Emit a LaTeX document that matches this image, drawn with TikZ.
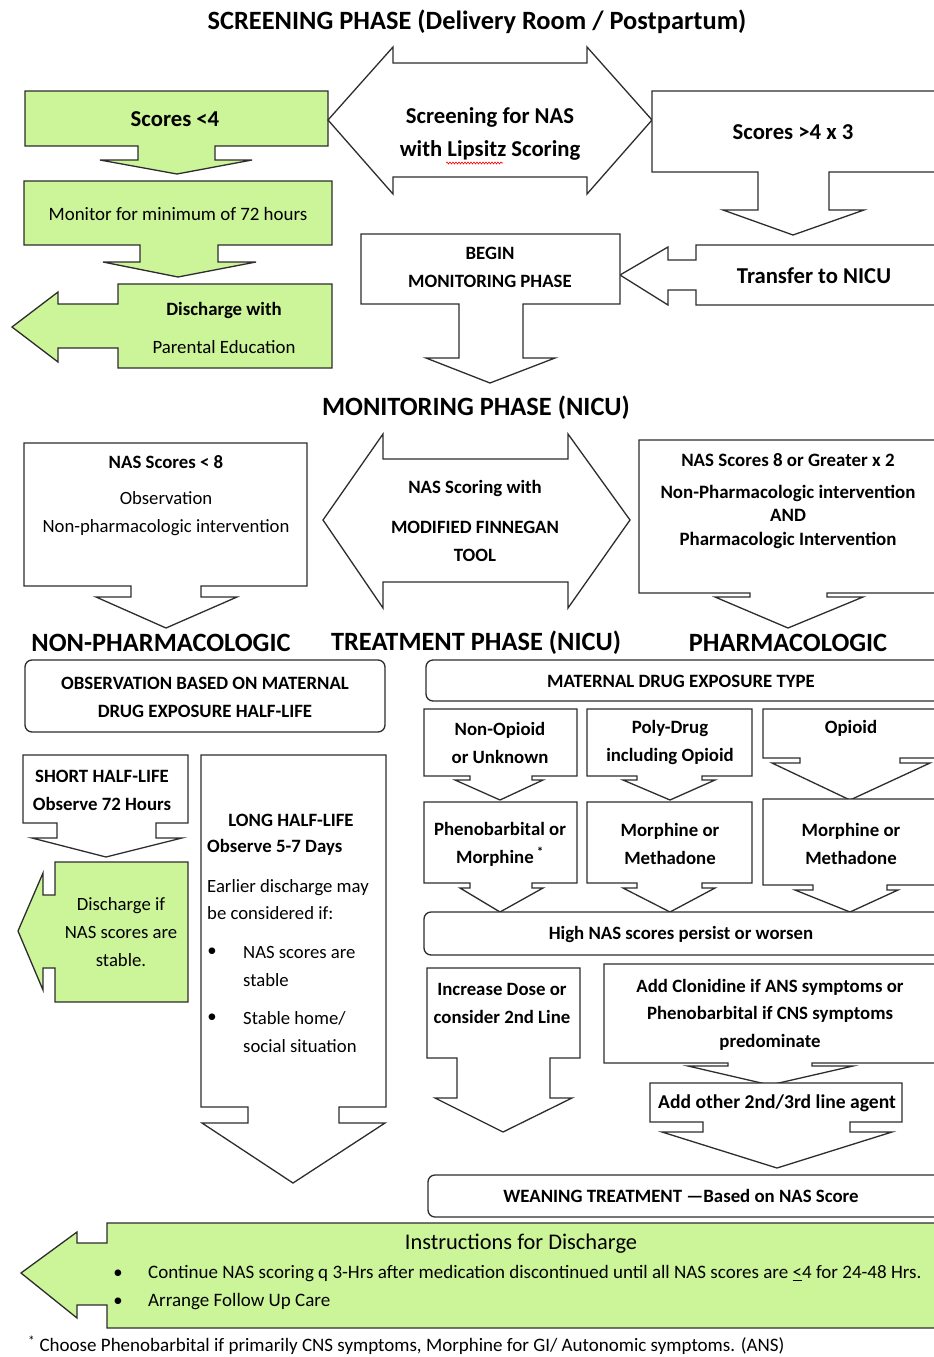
\documentclass[tikz,border=0pt]{standalone}
\usepackage{fontspec}
\setmainfont{Carlito}
\usetikzlibrary{decorations.pathmorphing}
\definecolor{gfill}{RGB}{204,244,153}
\definecolor{lc}{RGB}{45,45,45}
\tikzset{
 shp/.style={draw=lc, line width=1.3pt, line join=miter, fill=white},
 gshp/.style={shp, fill=gfill},
 rbox/.style={draw=lc, line width=1.3pt, rounded corners=7pt, fill=white},
 ttl/.style={font=\fontsize{26.4}{30}\selectfont\bfseries, inner sep=0pt},
 tb/.style={font=\fontsize{18.8}{28}\selectfont\bfseries, align=center, inner sep=0pt},
 tr/.style={font=\fontsize{18.7}{28}\selectfont, align=center, inner sep=0pt},
 tbig/.style={font=\fontsize{22.7}{33}\selectfont\bfseries, align=center, inner sep=0pt},
}
\begin{document}
\begin{tikzpicture}[x=1pt, y=-1pt]
\useasboundingbox (0,0) rectangle (934,1357);
\clip (0,0) rectangle (934,1357);
\fill[white] (0,0) rectangle (934,1357);

% ---------------- Screening phase
\node[ttl] (t1) at (477,22) {SCREENING PHASE (Delivery Room / Postpartum)};

\draw[gshp] (25,91) -- (328,91) -- (328,146) -- (215,146) -- (215,160) -- (252,160) -- (177,174) -- (100,160) -- (138,160) -- (138,146) -- (25,146) -- cycle;
\node[tbig] (s4) at (175,119) {Scores <4};

\draw[gshp] (24,181) -- (332,181) -- (332,245) -- (218,245) -- (218,262) -- (256,262) -- (178,277) -- (103,262) -- (140,262) -- (140,245) -- (24,245) -- cycle;
\node[tr, font=\fontsize{18.9}{28}\selectfont] (mon) at (178,214) {Monitor for minimum of 72 hours};

\draw[gshp] (118,284) -- (332,284) -- (332,368) -- (118,368) -- (118,348) -- (58,348) -- (58,362) -- (12,327) -- (58,292) -- (58,304) -- (118,304) -- cycle;
\node[tr, font=\fontsize{18.8}{38}\selectfont] (dis) at (224,328) {{\bfseries Discharge with}\\Parental Education};

\draw[shp] (328,120) -- (393,47) -- (393,63) -- (587,63) -- (587,47) -- (652,120) -- (587,194) -- (587,177) -- (393,177) -- (393,194) -- cycle;
\node[tbig] (scr) at (490,133.5) {Screening for NAS\\with Lipsitz Scoring};
\draw[red, line width=0.6pt, decorate, decoration={snake, amplitude=1pt, segment length=3pt}] (446,163) -- (503,163);

\draw[shp] (652,91) -- (945,91) -- (945,172) -- (829,172) -- (829,210) -- (864,210) -- (793,235) -- (723,210) -- (758,210) -- (758,172) -- (652,172) -- cycle;
\node[tbig] (s43) at (793,132) {Scores >4 x 3};

\draw[shp] (696,245) -- (945,245) -- (945,305) -- (696,305) -- (696,290) -- (668,290) -- (668,305) -- (620,275) -- (668,247) -- (668,260) -- (696,260) -- cycle;
\node[tbig] (tr) at (814,276) {Transfer to NICU};

\draw[shp] (361,234) -- (620,234) -- (620,304) -- (523,304) -- (523,358) -- (555,358) -- (490,383) -- (426,358) -- (459,358) -- (459,304) -- (361,304) -- cycle;
\node[tb] (beg) at (490,267) {BEGIN\\MONITORING PHASE};

% ---------------- Monitoring phase
\node[ttl] (t2) at (476,408) {MONITORING PHASE (NICU)};

\draw[shp] (24,443) -- (307,443) -- (307,586) -- (201,586) -- (201,597) -- (237,597) -- (166,628) -- (96,597) -- (131,597) -- (131,586) -- (24,586) -- cycle;
\node[tb] (n8a) at (166,462) {NAS Scores < 8};
\node[tr] (n8b) at (166,514) {Observation\\Non-pharmacologic intervention};

\draw[shp] (323,520) -- (383,434) -- (383,459) -- (568,459) -- (568,434) -- (630,520) -- (568,608) -- (568,582) -- (383,582) -- (383,608) -- cycle;
\node[tb] (fin1) at (475,488) {NAS Scoring with};
\node[tb] (fin2) at (475,541) {MODIFIED FINNEGAN\\TOOL};

\draw[shp] (639,440) -- (945,440) -- (945,593) -- (827,593) -- (827,597) -- (863,597) -- (788,628) -- (715,597) -- (750,597) -- (750,593) -- (639,593) -- cycle;
\node[tb, font=\fontsize{18.9}{28}\selectfont\bfseries] (g8a) at (788,460) {NAS Scores 8 or Greater x 2};
\node[tb, font=\fontsize{18.9}{23.5}\selectfont\bfseries] (g8b) at (788,516.5) {Non-Pharmacologic intervention\\AND\\Pharmacologic Intervention};

% ---------------- Treatment phase
\node[ttl] (t3a) at (161,643) {NON-PHARMACOLOGIC};
\node[ttl] (t3b) at (476,643) {TREATMENT PHASE (NICU)};
\node[ttl] (t3c) at (788,643) {PHARMACOLOGIC};

\draw[rbox] (25,660) rectangle (385,732);
\node[tb] (obs) at (205,697) {OBSERVATION BASED ON MATERNAL\\DRUG EXPOSURE HALF-LIFE};
\draw[rbox] (426,660) rectangle (945,701);
\node[tb] (mde) at (681,681) {MATERNAL DRUG EXPOSURE TYPE};

% left column
\draw[shp] (23,755) -- (188,755) -- (188,823) -- (156,823) -- (156,838) -- (182,838) -- (106,857) -- (32,838) -- (57,838) -- (57,823) -- (23,823) -- cycle;
\node[tb] (shl) at (102,790) {SHORT HALF-LIFE\\Observe 72 Hours};

\draw[gshp] (55,862) -- (188,862) -- (188,1002) -- (55,1002) -- (55,968) -- (43,968) -- (43,990) -- (18,931) -- (43,873) -- (43,895) -- (55,895) -- cycle;
\node[tr] (dif) at (121,932) {Discharge if\\NAS scores are\\stable.};

\draw[shp] (201,755) -- (386,755) -- (386,1107) -- (339,1107) -- (339,1123) -- (385,1123) -- (293,1183) -- (202,1123) -- (248,1123) -- (248,1107) -- (201,1107) -- cycle;
\node[tb] (lh1) at (291,820) {LONG HALF-LIFE};
\node[tb, anchor=west] (lh2) at (207,847) {Observe 5-7 Days};
\node[tr, anchor=west, align=left, font=\fontsize{18.7}{27}\selectfont] (lh3) at (207,899.5) {Earlier discharge may\\be considered if:};
\node[tr] (bl1) at (212,952) {•};
\node[tr, anchor=west, align=left] (lh4) at (243,966) {NAS scores are\\stable};
\node[tr] (bl2) at (212,1018) {•};
\node[tr, anchor=west, align=left] (lh5) at (243,1032) {Stable home/\\social situation};

% right column
\draw[shp] (424,709) -- (577,709) -- (577,776) -- (532,776) -- (532,780) -- (543,780) -- (500,800) -- (455,780) -- (470,780) -- (470,776) -- (424,776) -- cycle;
\node[tb] (no) at (500,742.5) {Non-Opioid\\or Unknown};
\draw[shp] (587,709) -- (752,709) -- (752,776) -- (702,776) -- (702,780) -- (715,780) -- (670,800) -- (623,780) -- (637,780) -- (637,776) -- (587,776) -- cycle;
\node[tb] (pd) at (670,742.5) {Poly-Drug\\including Opioid};
\draw[shp] (763,709) -- (945,709) -- (945,758) -- (900,758) -- (900,763) -- (930,763) -- (850,800) -- (772,763) -- (800,763) -- (800,758) -- (763,758) -- cycle;
\node[tb] (op) at (851,728) {Opioid};

\draw[shp] (424,802) -- (577,802) -- (577,883) -- (532,883) -- (532,888) -- (543,888) -- (500,912) -- (460,888) -- (470,888) -- (470,883) -- (424,883) -- cycle;
\node[tb] (ph) at (500,844) {Phenobarbital or\\Morphine\,\textsuperscript{*}};
\draw[shp] (587,802) -- (752,802) -- (752,883) -- (702,883) -- (702,888) -- (715,888) -- (670,912) -- (623,888) -- (637,888) -- (637,883) -- (587,883) -- cycle;
\node[tb] (mm1) at (670,844) {Morphine or\\Methadone};
\draw[shp] (763,799) -- (945,799) -- (945,885) -- (887,885) -- (887,890) -- (898,890) -- (850,912) -- (795,890) -- (813,890) -- (813,885) -- (763,885) -- cycle;
\node[tb] (mm2) at (851,844) {Morphine or\\Methadone};

\draw[rbox] (424,912) rectangle (945,955);
\node[tb] (hi) at (681,934) {High NAS scores persist or worsen};

\draw[shp] (427,968) -- (580,968) -- (580,1058) -- (550,1058) -- (550,1098) -- (572,1098) -- (503,1132) -- (435,1098) -- (457,1098) -- (457,1058) -- (427,1058) -- cycle;
\node[tb] (inc) at (502,1003) {Increase Dose or\\consider 2nd Line};

\draw[shp] (604,964) -- (945,964) -- (945,1063) -- (812,1063) -- (812,1066) -- (853,1066) -- (770,1085) -- (688,1066) -- (728,1066) -- (728,1063) -- (604,1063) -- cycle;
\node[tb, font=\fontsize{18.8}{27.5}\selectfont\bfseries] (clo) at (770,1014.5) {Add Clonidine if ANS symptoms or\\Phenobarbital if CNS symptoms\\predominate};

\draw[shp] (650,1083) -- (902,1083) -- (902,1122) -- (850,1122) -- (850,1132) -- (892,1132) -- (777,1168) -- (662,1132) -- (703,1132) -- (703,1122) -- (650,1122) -- cycle;
\node[tb, font=\fontsize{19.6}{28}\selectfont\bfseries] (oth) at (777,1103) {Add other 2nd/3rd line agent};

\draw[rbox] (428,1175) rectangle (945,1217);
\node[tb] (wean) at (681,1196) {WEANING TREATMENT —Based on NAS Score};

% ---------------- Discharge
\draw[gshp] (107,1223) -- (945,1223) -- (945,1328) -- (107,1328) -- (107,1305) -- (77,1305) -- (77,1318) -- (21,1273) -- (77,1232) -- (77,1243) -- (107,1243) -- cycle;
\node[tr, font=\fontsize{22.4}{26}\selectfont] (ins) at (521,1244) {Instructions for Discharge};
\node[tr] (ib1) at (118,1274) {•};
\node[tr, anchor=west, font=\fontsize{19}{22}\selectfont] (ins1) at (148,1274) {Continue NAS scoring q 3-Hrs after medication discontinued until all NAS scores are \underline{<}4 for 24-48 Hrs.};
\node[tr] (ib2) at (118,1302) {•};
\node[tr, anchor=west, font=\fontsize{19}{22}\selectfont] (ins2) at (148,1302) {Arrange Follow Up Care};

\node[tr, anchor=west, font=\fontsize{19}{22}\selectfont] (fn) at (28,1345) {\textsuperscript{*} Choose Phenobarbital if primarily CNS symptoms, Morphine for GI/ Autonomic symptoms. (ANS)};
\end{tikzpicture}
\end{document}
